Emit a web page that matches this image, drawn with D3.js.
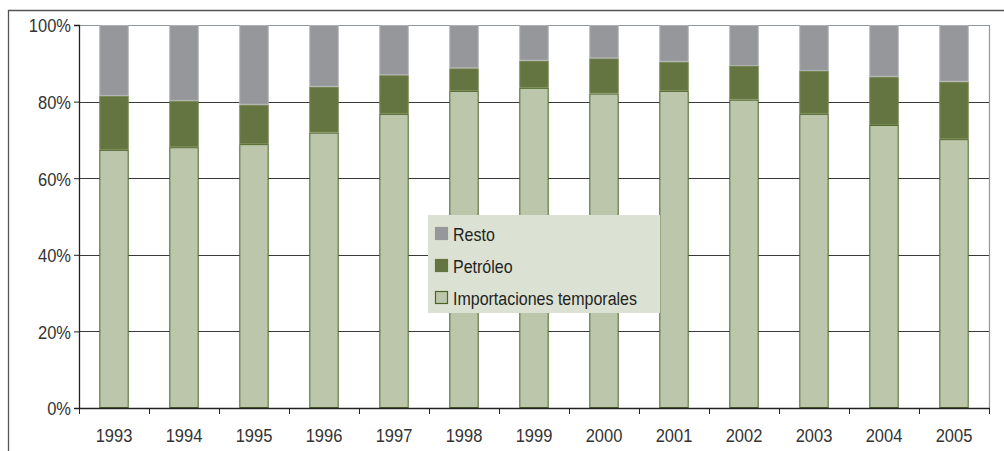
<!DOCTYPE html>
<html>
<head>
<meta charset="utf-8">
<script src="https://cdn.jsdelivr.net/npm/d3@7"></script>
<style>
  html, body { margin: 0; padding: 0; background: #fff; }
  svg { display: block; font-family: "Liberation Sans", Arial, sans-serif; }
</style>
</head>
<body>
<div id="chart"></div>
<script>
// datos (porcentaje del total de importaciones)
const years = ["1993","1994","1995","1996","1997","1998","1999","2000","2001","2002","2003","2004","2005"];
const importacionesTemporales = [67.4, 68.1, 68.9, 71.9, 76.8, 82.8, 83.6, 82.1, 82.8, 80.5, 76.8, 73.9, 70.2];
const petroleo = [14.1, 12.1, 10.3, 12.0, 10.1, 5.9, 7.1, 9.2, 7.6, 8.8, 11.2, 12.6, 15.0];
const resto = years.map((y, i) => 100 - importacionesTemporales[i] - petroleo[i]);
const yTicks = [0, 20, 40, 60, 80, 100];

const seriesNames = ["Importaciones temporales", "Petróleo", "Resto"];
const colors = { "Importaciones temporales": "#bbc6aa", "Petróleo": "#647541", "Resto": "#96979b" };
const strokes = { "Importaciones temporales": "#4c6428", "Petróleo": "#75864f", "Resto": "#aeb0b3" };

const width = 1004, height = 451;
const margin = { left: 79, right: 1004 - 989, top: 25, bottom: 451 - 408 };
const stretch = 1.13; // el texto original está algo estirado en vertical

const svg = d3.select("#chart").append("svg")
  .attr("width", width)
  .attr("height", height);

// marco exterior
svg.append("path")
  .attr("d", `M8.5,${height + 2}V10.5H${width + 2}`)
  .attr("fill", "none")
  .attr("stroke", "#555")
  .attr("stroke-width", 1.3);

const rows = years.map((y, i) => ({
  year: y,
  "Importaciones temporales": importacionesTemporales[i],
  "Petróleo": petroleo[i],
  "Resto": resto[i]
}));

const stacked = d3.stack().keys(seriesNames)(rows);

const x = d3.scaleBand()
  .domain(years)
  .range([margin.left, width - margin.right])
  .paddingInner(0.58)
  .paddingOuter(0.29);

const y = d3.scaleLinear()
  .domain([0, 100])
  .range([height - margin.bottom, margin.top]);

const g = svg.append("g");

// líneas de cuadrícula
g.append("g")
  .selectAll("line")
  .data(yTicks.filter(d => d > 0 && d < 100))
  .enter()
  .append("line")
  .attr("x1", margin.left)
  .attr("x2", width - margin.right)
  .attr("y1", d => Math.round(y(d)) + 0.5)
  .attr("y2", d => Math.round(y(d)) + 0.5)
  .attr("stroke", "#3a3a3a")
  .attr("stroke-width", 1);

// borde del área de trazado (arriba y derecha)
g.append("path")
  .attr("d", `M${margin.left},${y(100) + 0.5}H${width - margin.right + 0.5}V${y(0)}`)
  .attr("fill", "none")
  .attr("stroke", "#8f979e")
  .attr("stroke-width", 1.2);

// barras apiladas
g.append("g")
  .selectAll("g")
  .data(stacked)
  .enter()
  .append("g")
  .attr("fill", d => colors[d.key])
  .attr("stroke", d => strokes[d.key])
  .selectAll("rect")
  .data(d => d)
  .enter()
  .append("rect")
  .attr("x", d => x(d.data.year) + 0.5)
  .attr("width", x.bandwidth() - 1)
  .attr("y", d => y(d[1]) + 0.5)
  .attr("height", d => Math.max(0, y(d[0]) - y(d[1]) - 1))
  .attr("stroke-width", 1);

// estira el texto en vertical alrededor de su línea base
const stretchText = (sel, by) => sel
  .attr("dy", null)
  .attr("y", by)
  .attr("transform", `translate(0,${by}) scale(1,${stretch}) translate(0,${-by})`);

// eje Y
const yAxis = g.append("g")
  .attr("transform", `translate(${margin.left},0)`)
  .call(d3.axisLeft(y).tickValues(yTicks).tickFormat(d => d + "%").tickSize(5).tickPadding(3));
yAxis.select(".domain").attr("stroke", "#222").attr("stroke-width", 1.3);
yAxis.selectAll(".tick line").attr("stroke", "#222");
yAxis.selectAll("text")
  .attr("font-size", "16.5px")
  .attr("fill", "#333")
  .attr("font-family", "Liberation Sans, Arial, sans-serif")
  .call(stretchText, 6.8);

// eje X
const xAxis = g.append("g")
  .attr("transform", `translate(0,${y(0)})`)
  .call(d3.axisBottom(x).tickSize(0).tickPadding(22));
xAxis.select(".domain").attr("stroke", "#222").attr("stroke-width", 1.3);
xAxis.selectAll("text")
  .attr("font-size", "16.5px")
  .attr("fill", "#333")
  .attr("font-family", "Liberation Sans, Arial, sans-serif")
  .call(stretchText, 33.7);

// marcas del eje X en los límites de categoría
const boundaries = years.map(d => x(d) + x.bandwidth() / 2 - x.step() / 2).concat([width - margin.right]);
g.append("g")
  .selectAll("line")
  .data(boundaries)
  .enter()
  .append("line")
  .attr("x1", d => Math.round(d) + 0.5)
  .attr("x2", d => Math.round(d) + 0.5)
  .attr("y1", y(0))
  .attr("y2", y(0) + 6)
  .attr("stroke", "#222");

// leyenda
const legend = svg.append("g").attr("transform", "translate(428,215)");
legend.append("rect")
  .attr("width", 232)
  .attr("height", 98)
  .attr("fill", "#dce2d3");

const legendItems = ["Resto", "Petróleo", "Importaciones temporales"];
const li = legend.selectAll(".item")
  .data(legendItems)
  .enter()
  .append("g")
  .attr("class", "item")
  .attr("transform", (d, i) => `translate(7,${12 + i * 32})`);

li.append("rect")
  .attr("x", 0.5)
  .attr("y", 0.5)
  .attr("width", 12)
  .attr("height", 12)
  .attr("fill", d => colors[d])
  .attr("stroke", d => d === "Importaciones temporales" ? "#4c6428" : colors[d])
  .attr("stroke-width", 1.2);

li.append("text")
  .attr("x", 18)
  .attr("font-size", "16px")
  .attr("fill", "#222")
  .text(d => d)
  .call(stretchText, 14.5);
</script>
</body>
</html>
